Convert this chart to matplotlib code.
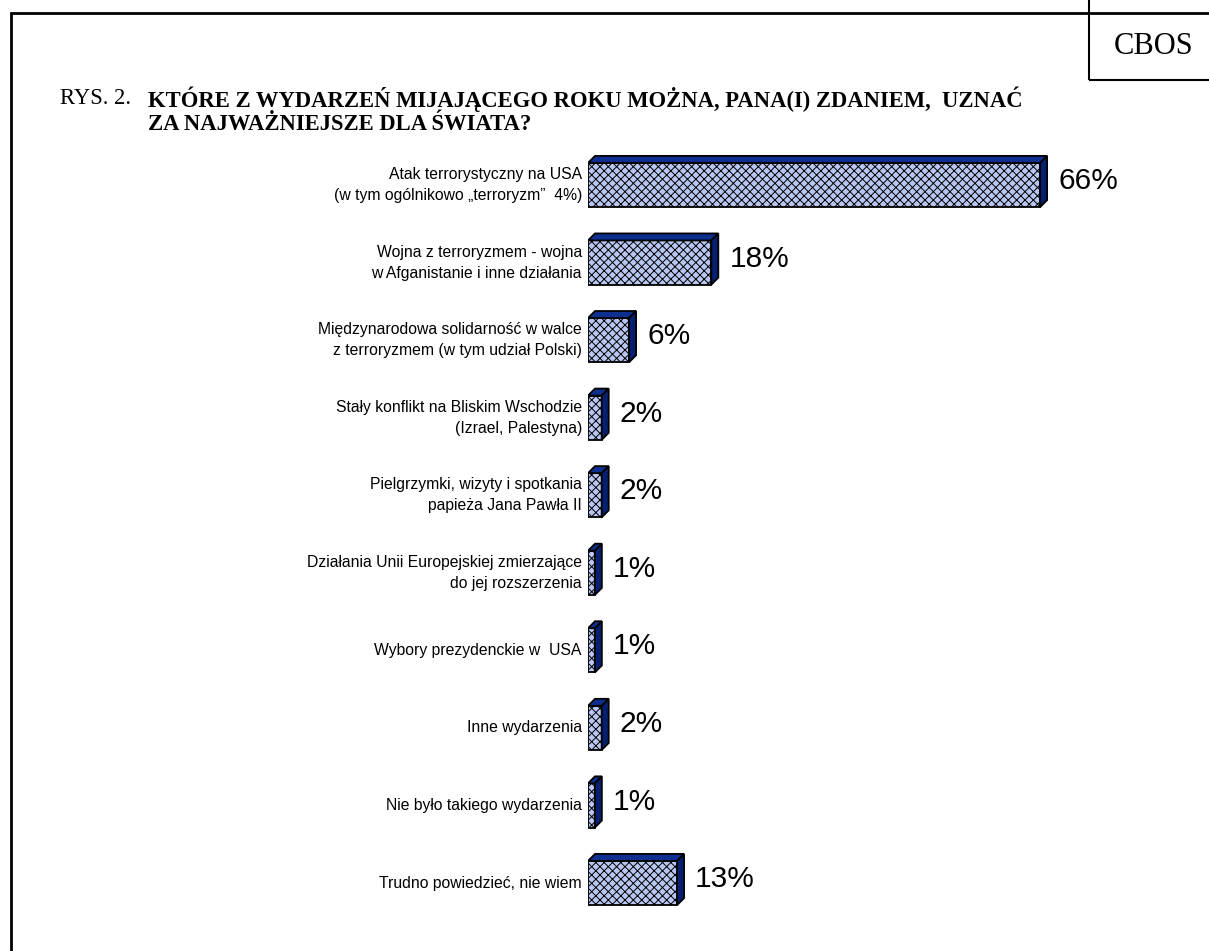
import matplotlib.pyplot as plt
from matplotlib.patches import Polygon

# Data
labels = [
    'Atak terrorystyczny na USA\n(w tym ogólnikowo \u201eterroryzm\u201d  4%)',
    'Wojna z terroryzmem - wojna\nw Afganistanie i inne działania',
    'Międzynarodowa solidarność w walce\nz terroryzmem (w tym udział Polski)',
    'Stały konflikt na Bliskim Wschodzie\n(Izrael, Palestyna)',
    'Pielgrzymki, wizyty i spotkania\npapieża Jana Pawła II',
    'Działania Unii Europejskiej zmierzające\ndo jej rozszerzenia',
    'Wybory prezydenckie w  USA',
    'Inne wydarzenia',
    'Nie było takiego wydarzenia',
    'Trudno powiedzieć, nie wiem',
]
values = [66, 18, 6, 2, 2, 1, 1, 2, 1, 13]

plt.rcParams['hatch.color'] = '#6382dc'
plt.rcParams['hatch.linewidth'] = 0.7

W, H = 1209, 951
fig = plt.figure(figsize=(W / 100, H / 100), dpi=100)

# frame around the whole figure and the CBOS box
fig.patches.append(plt.Rectangle((11 / W, -0.1), 1.2, (H - 13) / H + 0.1,
                                 transform=fig.transFigure, fill=False,
                                 edgecolor='black', linewidth=2))
fig.patches.append(plt.Rectangle((1089 / W, (H - 80) / H), 0.2, 0.2,
                                 transform=fig.transFigure, fill=False,
                                 edgecolor='black', linewidth=1.5))
fig.text(1154 / W, 1 - 46 / H, 'CBOS', family='Liberation Serif',
         fontsize=22, ha='center', va='center')

# title
fig.text(60 / W, 1 - 99 / H, 'RYS. 2.', family='Liberation Serif',
         fontsize=16.3, ha='left', va='center')
fig.text(148 / W, 1 - 99 / H,
         'KTÓRE Z WYDARZEŃ MIJAJĄCEGO ROKU MOŻNA, PANA(I) ZDANIEM,  UZNAĆ',
         family='Liberation Serif', fontsize=16.3, fontweight='bold',
         ha='left', va='center')
fig.text(148 / W, 1 - 124 / H, 'ZA NAJWAŻNIEJSZE DLA ŚWIATA?',
         family='Liberation Serif', fontsize=16.3, fontweight='bold',
         ha='left', va='center')

# axes placed so that 0% sits where the bars start
px_per_pct = 6.85
x_left = 588
xmax = 90
y_top, step = 185 - 77.56 / 2, 77.56
n = len(values)
ax = fig.add_axes([x_left / W, 1 - (y_top + n * step) / H,
                   xmax * px_per_pct / W, n * step / H])
ax.set_xlim(0, xmax)
ax.set_ylim(n - 0.5, -0.5)
ax.axis('off')

h = 0.57
dx = 7 / px_per_pct
dy = 7 / step
face = '#b8c7f2'
top_col = '#0d2f8f'
side_col = '#04206e'

for i, v in enumerate(values):
    y0 = i - h / 2
    y1 = i + h / 2
    ax.barh(i, v, height=h, color=face, edgecolor='black', linewidth=1.3,
            hatch='xxxx', zorder=2)
    top = Polygon([(0, y0), (v, y0), (v + dx, y0 - dy), (dx, y0 - dy)],
                  closed=True, facecolor=top_col, edgecolor='black',
                  linewidth=1.3, zorder=3)
    side = Polygon([(v, y0), (v + dx, y0 - dy), (v + dx, y1 - dy), (v, y1)],
                   closed=True, facecolor=side_col, edgecolor='black',
                   linewidth=1.3, zorder=3)
    ax.add_patch(top)
    ax.add_patch(side)
    ax.text(v + dx + 1.6, i - 0.05, f'{v}%', family='Liberation Sans',
            fontsize=21.5, ha='left', va='center')
    ax.text(-0.9, i, labels[i], family='Liberation Sans', fontsize=11.3,
            ha='right', va='center', multialignment='right', linespacing=1.5)

fig.savefig('out.png', dpi=100)
